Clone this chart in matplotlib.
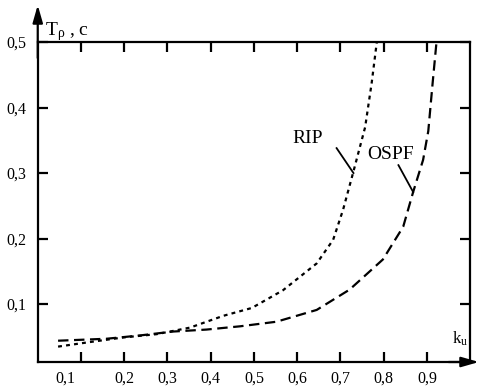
import matplotlib
matplotlib.use("Agg")
import matplotlib.pyplot as plt
import matplotlib.transforms as mtransforms

plt.rcParams['font.family'] = ['Liberation Serif', 'DejaVu Serif']
plt.rcParams['mathtext.fontset'] = 'custom'
plt.rcParams['mathtext.rm'] = 'Liberation Serif'
plt.rcParams['mathtext.it'] = 'Liberation Serif:italic'
plt.rcParams['lines.scale_dashes'] = False

# ---- data ----
rip_x = [0.047, 0.121, 0.198, 0.275, 0.352, 0.429, 0.495, 0.567, 0.645, 0.683,
         0.706, 0.729, 0.757, 0.772, 0.784, 0.790]
rip_y = [0.035, 0.042, 0.049, 0.054, 0.064, 0.082, 0.094, 0.121, 0.162, 0.198,
         0.244, 0.300, 0.370, 0.437, 0.500, 0.530]
ospf_x = [0.047, 0.159, 0.236, 0.313, 0.390, 0.468, 0.552, 0.645, 0.721, 0.798,
          0.845, 0.868, 0.891, 0.903, 0.913, 0.922, 0.926]
ospf_y = [0.044, 0.047, 0.052, 0.058, 0.061, 0.066, 0.073, 0.091, 0.122, 0.168,
          0.218, 0.271, 0.320, 0.364, 0.437, 0.500, 0.530]

x_ticks = [0.1, 0.2, 0.3, 0.4, 0.5, 0.6, 0.7, 0.8, 0.9]
x_tick_labels = ['0,1', '0,2', '0,3', '0,4', '0,5', '0,6', '0,7', '0,8', '0,9']
y_ticks = [0.1, 0.2, 0.3, 0.4, 0.5]
y_tick_labels = ['0,1', '0,2', '0,3', '0,4', '0,5']

fig = plt.figure(figsize=(4.79, 3.89), dpi=100)
ax = fig.add_axes([0.0788, 0.0694, 0.9029, 0.8226])
ax.set_xlim(0, 1.0)
ax.set_ylim(0.0115, 0.5)

for sp in ax.spines.values():
    sp.set_linewidth(1.6)
    sp.set_color('black')

ax.plot(rip_x, rip_y, color='black', lw=1.6, linestyle=(0, (2.8, 3.0)))
ax.plot(ospf_x, ospf_y, color='black', lw=1.6, linestyle=(0, (7.5, 4.0)))

# ticks
ax.set_xticks(x_ticks)
ax.set_xticklabels([])
ax.set_yticks(y_ticks)
ax.set_yticklabels(y_tick_labels)
ax.tick_params(axis='both', direction='in', length=7, width=1.6,
               top=True, right=True, labelsize=11.5, pad=8.5)

# x tick labels drawn as text (the first one is set off to the left)
xt = mtransforms.blended_transform_factory(ax.transData, ax.transAxes)
for i, (v, lab) in enumerate(zip(x_ticks, x_tick_labels)):
    tr = xt
    if i == 0:
        tr = xt + mtransforms.ScaledTranslation(-16 / 100, 0, fig.dpi_scale_trans)
    ax.text(v, -0.053, lab, transform=tr, ha='center', va='center',
            fontsize=11.5, clip_on=False)

# axis arrows
ax.annotate('', xy=(0, 1.1156), xytext=(0, 0.95), xycoords='axes fraction',
            arrowprops=dict(arrowstyle='-|>,head_length=1.05,head_width=0.3',
                            lw=1.6, color='black', mutation_scale=10,
                            shrinkA=0, shrinkB=0), annotation_clip=False)
ax.annotate('', xy=(1.0202, 0), xytext=(0.95, 0), xycoords='axes fraction',
            arrowprops=dict(arrowstyle='-|>,head_length=1.05,head_width=0.3',
                            lw=1.6, color='black', mutation_scale=10,
                            shrinkA=0, shrinkB=0), annotation_clip=False)

# axis titles
ax.text(0.017, 1.022, r'T$_{\mathrm{\rho}}$ , c', transform=ax.transAxes,
        ha='left', va='baseline', fontsize=14, clip_on=False)
ax.text(0.958, 0.056, r'k$_{\mathrm{u}}$', transform=ax.transAxes,
        ha='left', va='baseline', fontsize=12, clip_on=False)

# curve labels with leader lines
ax.text(0.625, 0.352, 'RIP', ha='center', va='center', fontsize=14)
ax.plot([0.691, 0.730], [0.338, 0.300], color='black', lw=1.3)
ax.text(0.816, 0.329, 'OSPF', ha='center', va='center', fontsize=14)
ax.plot([0.834, 0.868], [0.312, 0.271], color='black', lw=1.3)

fig.savefig('out.png', dpi=100)
